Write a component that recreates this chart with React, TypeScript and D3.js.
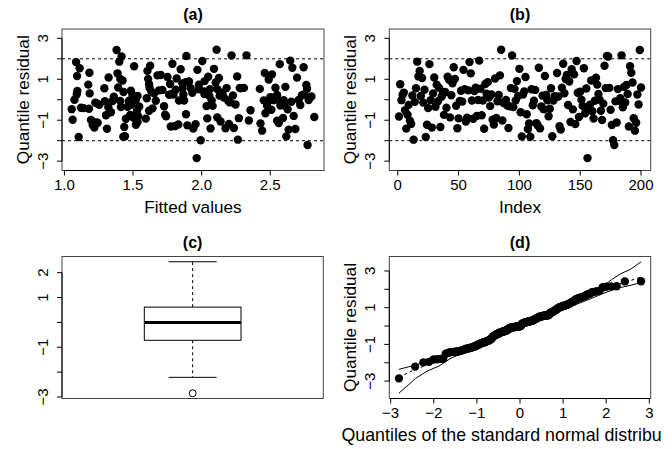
import React, { useEffect } from "react";
import * as d3 from "d3";

// Quantile residuals in observation order (index 1..200)
const residuals: number[] = [
  -0.82, 0.76, -0.02, 0.24, 0.35, -0.51, -1.41, -0.73, -0.25, -1.02,
  -1.18, 0.21, -1.95, -0.1, 0.56, 1.86, 1.14, 1.41, 0.18, 1.06,
  -0.14, 0.49, -1.82, -1.22, -0.41, 1.74, -0.02, -1.36, 0.31, 1.09,
  -0.34, 0.73, -0.07, 0.58, -1.33, 0.15, 0.27, -0.74, 0.38, -0.39,
  1.12, 0.99, -0.86, 0.22, 0.8, 1.59, 1.02, -0.29, -1.39, -0.91,
  -0.06, 0.44, -0.09, 1.46, 0.52, -1.06, -0.88, 0.46, 1.84, 1.29,
  -0.04, -0.93, 0.43, 0.59, -0.79, -0.01, 1.91, 0.54, -0.76, -0.04,
  -1.42, 0.77, 0.29, 0.86, 0.11, -0.31, 0.26, -0.98, -1.21, 1.04,
  -0.89, -0.07, 0.23, 1.19, 2.44, -1.01, -0.16, -0.08, -0.01, -0.28,
  -1.38, -0.32, 0.57, 2.16, -0.36, 0.53, -0.03, 0.91, 0.19, 1.51,
  -0.61, -1.79, 0.25, 0.41, 1.11, -0.71, -1.43, -1.16, -1.81, 0.51,
  -0.27, -0.05, 0.48, -1.14, -1.25, 1.56, -1.4, -0.33, 0.2, -0.46,
  1.16, 0.23, -0.03, -0.81, -0.44, 0.56, -1.78, -0.04, 0.17, 0.13,
  1.31, 0.16, -1.29, -1.46, 0.59, 1.76, 0.32, 1.01, 1.21, -0.26,
  0.89, -1.09, 1.49, -0.47, 1.24, -1.19, 1.89, 0.34, -0.84, 0.39,
  0.0, -0.3, 1.54, -0.66, 0.55, -2.85, -0.42, -0.24, 0.94, -0.56,
  -0.92, -0.05, 1.08, 0.74, 0.28, 0.0, -0.54, -0.99, -0.19, 1.66,
  0.57, 2.14, 2.11, 0.58, -0.49, -1.23, -1.98, -2.21, -0.08, -1.11,
  0.52, -0.06, 0.07, 2.17, -0.37, 0.63, -0.13, 0.72, 0.28, -1.31,
  1.64, 1.32, 0.84, -0.9, -1.51, -1.12, 0.26, -0.23, 2.43, 0.6,
];

// Fitted values, each listed with the residual it was plotted against
const fittedValues: number[] = [
  1.053, 1.06, 1.073, 1.085, 1.111, 1.092, 1.094, 1.104, 1.121, 1.14,
  1.182, 1.174, 1.184, 1.179, 1.194, 1.206, 1.218, 1.23, 1.225, 1.254, 1.242, 1.291, 1.295, 1.303, 1.31,
  1.322, 1.32, 1.339, 1.351, 1.38, 1.387, 1.392, 1.4, 1.416, 1.407, 1.407, 1.412, 1.424, 1.429, 1.436,
  1.441, 1.448, 1.431, 1.46, 1.472, 1.479, 1.484, 1.496, 1.489, 1.504, 1.508, 1.513, 1.521, 1.528, 1.533,
  1.533, 1.545, 1.538, 1.593, 1.6, 1.605, 1.61, 1.617, 1.625, 1.634, 1.642, 1.617, 1.654, 1.666, 1.678, 1.69,
  1.702, 1.714, 1.726, 1.734, 1.741, 1.751, 1.763, 1.77, 1.775, 1.787, 1.794, 1.804, 1.811, 1.818, 1.83,
  1.835, 1.847, 1.86, 1.867, 1.872, 1.886, 1.889, 1.896, 1.884,
  1.908, 1.92, 1.932, 1.939, 1.956, 1.964, 1.969, 1.981, 1.993, 2.005, 2.017, 2.022, 2.036, 2.041, 2.048,
  2.056, 2.061, 2.065, 2.073, 2.08, 2.09,
  2.109, 2.102, 2.114, 2.126, 2.131, 2.114, 2.138, 2.15, 2.162, 2.174, 2.182, 2.191, 2.199, 2.206, 2.218,
  2.228, 2.235, 2.247, 2.259, 2.264, 2.271, 2.278, 2.283,
  2.327, 2.308, 2.344, 2.356, 2.424, 2.429, 2.441, 2.453, 2.46, 2.465, 2.477, 2.484, 2.489, 2.501, 2.508, 2.513,
  2.525, 2.538, 2.55, 2.562, 2.569, 2.574, 2.581, 2.593, 2.598, 2.603, 2.61, 2.617, 2.627, 2.634, 2.646,
  2.654, 2.661, 2.671, 2.683, 2.695,
  2.707, 2.719, 2.731, 2.743, 2.748, 2.763, 2.768, 2.772, 2.78, 2.821,
  1.09, 1.24, 1.36, 1.47, 1.52, 1.62, 1.78, 1.86, 2.02, 2.15, 2.2, 2.6, 2.55, 2.8, 1.98,
];
const fittedResiduals: number[] = [
  -0.47, -0.93, 0.05, 1.85, 1.55, 1.15, 0.5, -1.8, -0.3, -0.35,
  1.3, 0.75, 0.35, -0.4, -0.95, -1.2, -1.35, -1.05, -0.15, -0.25, -1.15, 0.55, 0, -0.65, -1.4,
  1.05, -0.3, -0.5, 0, 2.45, 1.2, 0.65, 1.9, 2.15, 1.0, 0, -0.3, 0.9, -1.8, -1.35,
  -1.7, -0.9, 0.4, -0.3, 0, -0.65, 0.5, 0.25, -0.25, -0.8, 1.65, 0.2, -1.2, -0.5, -1.05,
  0.2, -0.3, -0.7, -0.9, 0.1, 1.4, 1.0, -0.5, 1.65, 0.4, -0.4, 0.75, 0.35, 0, 1.15, 0.5,
  1.15, 0.5, -0.3, -0.65, -0.7, 1.1, 0.25, 0.75, -1.3, 1.8, 0.25, -1.3, 0.5, 1.0, -1.2,
  0, 1.5, 0.75, 0.25, 0, -0.65, 2.15, -1.3, 0.85,
  0.85, 0.6, 0.35, -1.4, -1.2, -2.85, 1.4, 0.5, -2.0, 1.9, 0.4, 0.85, -0.3, -0.9, 1.1,
  0.2, 0.5, -1.4, 0, -0.3, 1.5,
  2.45, 0.75, 0.5, 1.0, 0.2, -0.8, -1.05, 0.35, 0.1, -1.4, 0.6, 0, -1.2, -0.15, 2.15,
  0.2, -1.4, -0.25, 1.1, -1.95, -0.9, 0.6, 0.55,
  2.15, 0.6, -1.0, -0.5, 0.5, -1.2, -1.45, 0, 1.25, -0.65, -0.3, -0.05, 0.9, 0.1, -0.5, 1.15,
  0, 0.6, -1.05, -1.2, 1.65, -0.3, -0.05, -0.9, 0, -0.3, 0.65, -1.8, -0.5, -1.45, 1.9,
  -0.15, 1.55, -0.7, -1.45, 1.0,
  0, -0.3, 0.2, 1.55, 0.25, 0.65, 0.5, -2.2, 0, -0.8,
  0.3, -0.2, 0.1, -0.1, 0.05, 0.6, 0.3, 0.5, 0.3, 0.3, -0.1, -0.2, 0.2, 0.1, 0.7,
];

// Simulated envelope for the normal QQ plot
const envelopeQuantiles: number[] = [-2.81, -2.42, -2.15, -1.88, -1.6, -1.0, 0, 1.0, 1.6, 1.9, 2.14, 2.34, 2.57, 2.81];
const envelopeLower: number[] = [-3.66, -2.85, -2.45, -2.18, -1.75, -1.15, -0.12, 0.9, 1.45, 1.75, 1.95, 2.1, 2.22, 2.37];
const envelopeMedian: number[] = [-2.78, -2.35, -2.12, -1.88, -1.6, -1.0, 0.0, 1.02, 1.62, 1.92, 2.15, 2.32, 2.48, 2.67];
const envelopeUpper: number[] = [-2.36, -2.12, -1.92, -1.68, -1.42, -0.85, 0.12, 1.15, 1.78, 2.12, 2.55, 2.85, 3.1, 3.5];

const residualLimits: [number, number] = [-3.2, 3.2];
const referenceLines: number[] = [-2, 2];
const residualTicks: number[] = [-3, -2, -1, 0, 1, 2, 3];
const residualTickLabels: number[] = [3, 1, -1, -3];
const fittedTicks: number[] = [1.0, 1.5, 2.0, 2.5];
const indexTicks: number[] = [0, 50, 100, 150, 200];
const boxTicks: number[] = [-3, -2, -1, 0, 1, 2];
const boxTickLabels: number[] = [2, 1, -1, -3];
const normalTicks: number[] = [-3, -2, -1, 0, 1, 2, 3];
// The long axis title runs past the right edge of the page and is cut there
const qqXLabel = "Quantiles of the standard normal distribu";

const W = 672;
const H = 449;
const FONT = "'Liberation Sans', Arial, Helvetica, sans-serif";
const TICK_SIZE = 15;
const LABEL_SIZE = 17.2;
const TITLE_SIZE = 16;
const POINT_R = 4.2;
const FRAME_COLOR = "#444";

type Frame = { left: number; right: number; top: number; bottom: number };
type Scale = (v: number) => number;

const frameA: Frame = { left: 62, right: 324, top: 29, bottom: 170.5 };
const frameB: Frame = { left: 389.3, right: 650.7, top: 29, bottom: 170.5 };
const frameC: Frame = { left: 62, right: 323.3, top: 256.5, bottom: 398.5 };
const frameD: Frame = { left: 389.3, right: 650.7, top: 256.5, bottom: 398.5 };

// R-style axis range: data range widened by 4% on each side
const pad = (lo: number, hi: number): [number, number] => {
  const e = 0.04 * (hi - lo);
  return [lo - e, hi + e];
};

const fmtNum = (v: number, digits = 0) => {
  const s = v.toFixed(digits);
  return v < 0 ? "\u2212" + s.slice(1) : s;
};

// Inverse standard normal CDF (Acklam's rational approximation)
function qnorm(p: number): number {
  const a = [-3.969683028665376e1, 2.209460984245205e2, -2.759285104469687e2, 1.38357751867269e2, -3.066479806614716e1, 2.506628277459239];
  const b = [-5.447609879822406e1, 1.615858368580409e2, -1.556989798598866e2, 6.680131188771972e1, -1.328068155288572e1];
  const c = [-7.784894002430293e-3, -3.223964580411365e-1, -2.400758277161838, -2.549732539343734, 4.374664141464968, 2.938163982698783];
  const d = [7.784695709041462e-3, 3.224671290700398e-1, 2.445134137142996, 3.754408661907416];
  const pl = 0.02425;
  if (p < pl) {
    const q = Math.sqrt(-2 * Math.log(p));
    return (((((c[0] * q + c[1]) * q + c[2]) * q + c[3]) * q + c[4]) * q + c[5]) / ((((d[0] * q + d[1]) * q + d[2]) * q + d[3]) * q + 1);
  }
  if (p <= 1 - pl) {
    const q = p - 0.5;
    const r = q * q;
    return ((((((a[0] * r + a[1]) * r + a[2]) * r + a[3]) * r + a[4]) * r + a[5]) * q) / (((((b[0] * r + b[1]) * r + b[2]) * r + b[3]) * r + b[4]) * r + 1);
  }
  const q = Math.sqrt(-2 * Math.log(1 - p));
  return -(((((c[0] * q + c[1]) * q + c[2]) * q + c[3]) * q + c[4]) * q + c[5]) / ((((d[0] * q + d[1]) * q + d[2]) * q + d[3]) * q + 1);
}

// Tukey five-number summary, as R's fivenum
function fivenum(values: number[]): number[] {
  const s = values.slice().sort((x, y) => x - y);
  const n = s.length;
  const n4 = Math.floor((n + 3) / 2) / 2;
  const pos = [1, n4, (n + 1) / 2, n + 1 - n4, n];
  return pos.map((p) => 0.5 * (s[Math.floor(p) - 1] + s[Math.ceil(p) - 1]));
}

const n = residuals.length;
const indices = d3.range(1, n + 1);

// Pair each observation with its fitted value by residual rank
const obsOrder = d3.range(n).sort((i, j) => residuals[i] - residuals[j]);
const pairOrder = d3.range(fittedValues.length).sort((i, j) => fittedResiduals[i] - fittedResiduals[j]);
const fitted: number[] = new Array(n);
obsOrder.forEach((obs, k) => {
  const m = fittedValues.length;
  fitted[obs] = fittedValues[pairOrder[Math.round((k * (m - 1)) / (n - 1))]];
});

const sortedResiduals = residuals.slice().sort((x, y) => x - y);
const theoretical = d3.range(n).map((i) => qnorm((i + 1 - 0.5) / n));

function Frame({ f }: { f: Frame }) {
  return <rect x={f.left} y={f.top} width={f.right - f.left} height={f.bottom - f.top} fill="none" stroke={FRAME_COLOR} strokeWidth={1} />;
}

function YAxis({ f, y, ticks, labels }: { f: Frame; y: Scale; ticks: number[]; labels: number[] }) {
  return (
    <g>
      <line x1={f.left} x2={f.left} y1={y(d3.min(ticks)!)} y2={y(d3.max(ticks)!)} stroke="black" />
      {ticks.map((t) => (
        <line key={t} x1={f.left - 5} x2={f.left} y1={y(t)} y2={y(t)} stroke="black" />
      ))}
      {labels.map((t) => (
        <text key={t} transform={`translate(${f.left - 14},${y(t)}) rotate(-90)`} textAnchor="middle" fontSize={TICK_SIZE}>
          {fmtNum(t)}
        </text>
      ))}
    </g>
  );
}

function XAxis({ f, x, ticks, digits = 0 }: { f: Frame; x: Scale; ticks: number[]; digits?: number }) {
  return (
    <g>
      <line x1={x(ticks[0])} x2={x(ticks[ticks.length - 1])} y1={f.bottom} y2={f.bottom} stroke="black" />
      {ticks.map((t) => (
        <line key={t} x1={x(t)} x2={x(t)} y1={f.bottom} y2={f.bottom + 5} stroke="black" />
      ))}
      {ticks.map((t) => (
        <text key={t} x={x(t)} y={f.bottom + 19.5} textAnchor="middle" fontSize={TICK_SIZE}>
          {fmtNum(t, digits)}
        </text>
      ))}
    </g>
  );
}

function Title({ f, text }: { f: Frame; text: string }) {
  return (
    <text x={(f.left + f.right) / 2} y={f.top - 9} textAnchor="middle" fontSize={TITLE_SIZE} fontWeight="bold">
      {text}
    </text>
  );
}

function XLabel({ f, text }: { f: Frame; text: string }) {
  return (
    <text x={(f.left + f.right) / 2} y={f.bottom + 42.5} textAnchor="middle" fontSize={LABEL_SIZE}>
      {text}
    </text>
  );
}

function YLabel({ f, text }: { f: Frame; text: string }) {
  return (
    <text transform={`translate(${f.left - 33},${(f.top + f.bottom) / 2}) rotate(-90)`} textAnchor="middle" fontSize={LABEL_SIZE}>
      {text}
    </text>
  );
}

function Clip({ id, f }: { id: string; f: Frame }) {
  return (
    <clipPath id={id}>
      <rect x={f.left} y={f.top} width={f.right - f.left} height={f.bottom - f.top} />
    </clipPath>
  );
}

function ResidualPanel({ f, xs, xDomain, ticks, digits, title, xlabel, clipId }: {
  f: Frame; xs: number[]; xDomain: [number, number]; ticks: number[]; digits: number; title: string; xlabel: string; clipId: string;
}) {
  const x = d3.scaleLinear().domain(xDomain).range([f.left, f.right]);
  const y = d3.scaleLinear().domain(pad(residualLimits[0], residualLimits[1])).range([f.bottom, f.top]);
  return (
    <g>
      <g clipPath={`url(#${clipId})`}>
        {referenceLines.map((r) => (
          <line key={r} x1={f.left} x2={f.right} y1={y(r)} y2={y(r)} stroke="black" strokeDasharray="3,3" />
        ))}
        {xs.map((xv, i) => (
          <circle key={i} cx={x(xv)} cy={y(residuals[i])} r={POINT_R} fill="black" />
        ))}
      </g>
      <Frame f={f} />
      <YAxis f={f} y={y} ticks={residualTicks} labels={residualTickLabels} />
      <XAxis f={f} x={x} ticks={ticks} digits={digits} />
      <Title f={f} text={title} />
      <XLabel f={f} text={xlabel} />
      <YLabel f={f} text="Quantile residual" />
    </g>
  );
}

function BoxPanel({ f }: { f: Frame }) {
  const [mn, q1, med, q3, mx] = fivenum(residuals);
  const iqr = q3 - q1;
  const inside = residuals.filter((v) => v >= q1 - 1.5 * iqr && v <= q3 + 1.5 * iqr);
  const whiskLo = d3.min(inside)!;
  const whiskHi = d3.max(inside)!;
  const outliers = residuals.filter((v) => v < whiskLo || v > whiskHi);
  const y = d3.scaleLinear().domain(pad(mn, mx)).range([f.bottom, f.top]);
  const x = d3.scaleLinear().domain([0.5, 1.5]).range([f.left, f.right]);
  const half = 0.185;
  const staple = 0.092;
  return (
    <g>
      <line x1={x(1)} x2={x(1)} y1={y(q3)} y2={y(whiskHi)} stroke="black" strokeDasharray="3,3" />
      <line x1={x(1)} x2={x(1)} y1={y(q1)} y2={y(whiskLo)} stroke="black" strokeDasharray="3,3" />
      <line x1={x(1 - staple)} x2={x(1 + staple)} y1={y(whiskHi)} y2={y(whiskHi)} stroke="black" />
      <line x1={x(1 - staple)} x2={x(1 + staple)} y1={y(whiskLo)} y2={y(whiskLo)} stroke="black" />
      <rect x={x(1 - half)} y={y(q3)} width={x(1 + half) - x(1 - half)} height={y(q1) - y(q3)} fill="white" stroke="black" />
      <line x1={x(1 - half)} x2={x(1 + half)} y1={y(med)} y2={y(med)} stroke="black" strokeWidth={3} />
      {outliers.map((v, i) => (
        <circle key={i} cx={x(1)} cy={y(v)} r={3.5} fill="none" stroke="black" />
      ))}
      <Frame f={f} />
      <YAxis f={f} y={y} ticks={boxTicks} labels={boxTickLabels} />
      <Title f={f} text="(c)" />
    </g>
  );
}

function QQPanel({ f, clipId }: { f: Frame; clipId: string }) {
  const xr = d3.extent(theoretical) as [number, number];
  const yLo = Math.min(d3.min(sortedResiduals)!, d3.min(envelopeLower)!);
  const yHi = Math.max(d3.max(sortedResiduals)!, d3.max(envelopeUpper)!);
  const x = d3.scaleLinear().domain(pad(xr[0], xr[1])).range([f.left, f.right]);
  const y = d3.scaleLinear().domain(pad(yLo, yHi)).range([f.bottom, f.top]);
  const line = (ys: number[]) =>
    d3.line<number>().x((_, i) => x(envelopeQuantiles[i])).y((v) => y(v))(ys) || "";
  return (
    <g>
      <g clipPath={`url(#${clipId})`}>
        <path d={line(envelopeLower)} fill="none" stroke="black" />
        <path d={line(envelopeUpper)} fill="none" stroke="black" />
        <path d={line(envelopeMedian)} fill="none" stroke="black" strokeDasharray="3,3" />
        {sortedResiduals.map((v, i) => (
          <circle key={i} cx={x(theoretical[i])} cy={y(v)} r={POINT_R} fill="black" />
        ))}
      </g>
      <Frame f={f} />
      <YAxis f={f} y={y} ticks={normalTicks} labels={residualTickLabels} />
      <XAxis f={f} x={x} ticks={normalTicks} />
      <Title f={f} text="(d)" />
      <text x={341.5} y={f.bottom + 42.5} textAnchor="start" fontSize={17.8}>
        {qqXLabel}
      </text>
      <YLabel f={f} text="Quantile residual" />
    </g>
  );
}

export default function App() {
  useEffect(() => {
    document.body.style.margin = "0";
  }, []);
  const fx = d3.extent(fitted) as [number, number];
  return (
    <svg width={W} height={H} style={{ position: "absolute", left: 0, top: 0, background: "white" }} fontFamily={FONT}>
      <defs>
        <Clip id="clipA" f={frameA} />
        <Clip id="clipB" f={frameB} />
        <Clip id="clipD" f={frameD} />
      </defs>
      <rect x={0} y={0} width={W} height={H} fill="white" />
      <ResidualPanel f={frameA} xs={fitted} xDomain={pad(fx[0], fx[1])} ticks={fittedTicks} digits={1} title="(a)" xlabel="Fitted values" clipId="clipA" />
      <ResidualPanel f={frameB} xs={indices} xDomain={pad(1, n)} ticks={indexTicks} digits={0} title="(b)" xlabel="Index" clipId="clipB" />
      <BoxPanel f={frameC} />
      <QQPanel f={frameD} clipId="clipD" />
    </svg>
  );
}
